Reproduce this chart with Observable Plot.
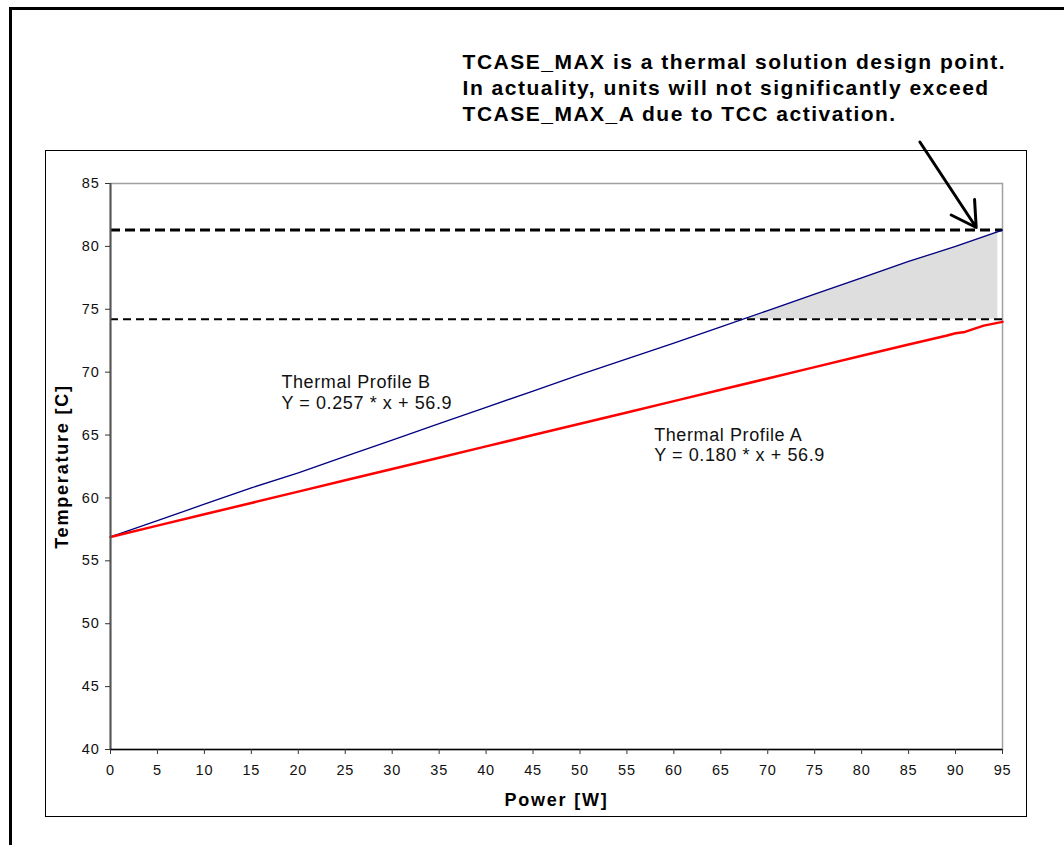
<!DOCTYPE html>
<html>
<head>
<meta charset="utf-8">
<script src="https://cdn.jsdelivr.net/npm/d3@7"></script>
<script src="https://cdn.jsdelivr.net/npm/@observablehq/plot@0.6"></script>
<style>
  html, body { margin: 0; padding: 0; background: #fff; }
  #chart svg { display: block; font-family: "Liberation Sans", Arial, sans-serif; }
</style>
</head>
<body>
<div id="chart"></div>
<script>
// ---- data ----
const power = [0, 5, 10, 15, 20, 25, 30, 35, 40, 45, 50, 55, 60, 65, 70, 75, 80, 85, 90, 95];
const profileB = [56.9, 58.2, 59.5, 60.8, 62.0, 63.3, 64.6, 65.9, 67.2, 68.5, 69.8, 71.05, 72.3, 73.6, 74.9, 76.2, 77.5, 78.8, 80.0, 81.3];
const powerA = [0, 5, 10, 15, 20, 25, 30, 35, 40, 45, 50, 55, 60, 65, 70, 75, 80, 85, 89, 90, 91, 93, 95];
const profileA = [56.9, 57.8, 58.7, 59.6, 60.5, 61.4, 62.3, 63.2, 64.1, 65.0, 65.9, 66.8, 67.7, 68.6, 69.5, 70.4, 71.3, 72.2, 72.9, 73.1, 73.2, 73.7, 74.0];
const tcaseMax = 81.3;
const tcaseMaxA = 74.2;
const shadeX = [67.3, 70, 75, 80, 85, 90, 94.5];
const shadeTop = [74.2, 74.9, 76.2, 77.5, 78.8, 80.0, 81.2];
const xTicks = [0, 5, 10, 15, 20, 25, 30, 35, 40, 45, 50, 55, 60, 65, 70, 75, 80, 85, 90, 95];
const yTicks = [40, 45, 50, 55, 60, 65, 70, 75, 80, 85];
const xTitle = "Power [W]";
const yTitle = "Temperature [C]";
const labelB = ["Thermal Profile B", "Y = 0.257 * x + 56.9"];
const labelA = ["Thermal Profile A", "Y = 0.180 * x + 56.9"];
const noteLines = ["TCASE_MAX is a thermal solution design point.",
                   "In actuality, units will not significantly exceed",
                   "TCASE_MAX_A due to TCC activation."];
const labelBPos = {x: 18.2, y: 69.85};
const labelAPos = {x: 57.9, y: 65.65};
const notePos = {x: 37.5, y: 95.55};
const arrowPos = [{x1: 86.2, y1: 88.3, x2: 92.2, y2: 81.5}];

const dataB = power.map((x, i) => ({x, y: profileB[i]}));
const dataA = powerA.map((x, i) => ({x, y: profileA[i]}));
const shade = shadeX.map((x, i) => ({x, y1: tcaseMaxA, y2: shadeTop[i]}));
const font = "Liberation Sans, Arial, sans-serif";

const chart = Plot.plot({
  width: 1064,
  height: 845,
  marginLeft: 110,
  marginRight: 62,
  marginTop: 183,
  marginBottom: 96,
  style: {fontFamily: font, background: "#fff"},
  x: {domain: [0, 95]},
  y: {domain: [40, 85]},
  marks: [
    Plot.areaY(shade, {x: "x", y1: "y1", y2: "y2", fill: "#dedede"}),
    Plot.frame({stroke: "#a0a0a0", strokeWidth: 1.5}),
    Plot.ruleY([tcaseMax], {stroke: "#000", strokeWidth: 3, strokeDasharray: "10,5"}),
    Plot.ruleY([tcaseMaxA], {stroke: "#000", strokeWidth: 2, strokeDasharray: "8,5"}),
    Plot.line(dataB, {x: "x", y: "y", stroke: "#000080", strokeWidth: 1.3}),
    Plot.line(dataA, {x: "x", y: "y", stroke: "#ff0000", strokeWidth: 2.5}),
    Plot.ruleX([0], {stroke: "#555", strokeWidth: 2}),
    Plot.ruleY([40], {stroke: "#000", strokeWidth: 1.5}),
    Plot.axisX({ticks: xTicks, tickSize: 5, tickPadding: 10, fontSize: 15, label: null, stroke: "#333", color: "#111"}),
    Plot.axisY({ticks: yTicks, tickSize: 5, tickPadding: 6, fontSize: 15, label: null, stroke: "#333", color: "#111"}),
    Plot.text([xTitle], {frameAnchor: "bottom", textAnchor: "middle", lineAnchor: "middle", dy: 51, fontSize: 18, fontWeight: "bold", fill: "#000"}),
    Plot.text([yTitle], {frameAnchor: "left", textAnchor: "middle", lineAnchor: "middle", dx: -48, rotate: -90, fontSize: 18, fontWeight: "bold", fill: "#000"}),
    Plot.text([labelB.join("\n")], {x: () => labelBPos.x, y: () => labelBPos.y, textAnchor: "start", lineAnchor: "top", lineHeight: 1.12, fontSize: 18, fill: "#111"}),
    Plot.text([labelA.join("\n")], {x: () => labelAPos.x, y: () => labelAPos.y, textAnchor: "start", lineAnchor: "top", lineHeight: 1.12, fontSize: 18, fill: "#111"}),
    Plot.text([noteLines.join("\n")], {x: () => notePos.x, y: () => notePos.y, textAnchor: "start", lineAnchor: "top", lineHeight: 1.24, fontSize: 21, fontWeight: "bold", fill: "#000", clip: false}),
    Plot.arrow(arrowPos, {x1: "x1", y1: "y1", x2: "x2", y2: "y2", stroke: "#000", strokeWidth: 3, headLength: 14, clip: false})
  ]
});

// typographic tweaks: letter spacing to match the reference's wide rendering
const svg = d3.select(chart);
const tickStrings = new Set([...xTicks, ...yTicks].map(String));
svg.selectAll("text").each(function () {
  const t = this.textContent;
  const el = d3.select(this);
  if (t === xTitle || t === yTitle) el.style("letter-spacing", "1.8px");
  else if (t.startsWith("TCASE_MAX is")) el.style("letter-spacing", "1.5px");
  else if (t.startsWith("Thermal Profile")) el.style("letter-spacing", "0.6px");
  else if (tickStrings.has(t)) el.style("font-size", "14.5px").style("letter-spacing", "0.8px");
});

// decorative chart borders (outer page box and chart area box)
svg.insert("rect", ":first-child")
  .attr("x", 45.5).attr("y", 150.5).attr("width", 981).attr("height", 666)
  .attr("fill", "none").attr("stroke", "#000").attr("stroke-width", 1);
svg.insert("rect", ":first-child")
  .attr("x", 10.5).attr("y", 8.5).attr("width", 1100).attr("height", 900)
  .attr("fill", "none").attr("stroke", "#000").attr("stroke-width", 3);

document.getElementById("chart").appendChild(chart);
</script>
</body>
</html>
